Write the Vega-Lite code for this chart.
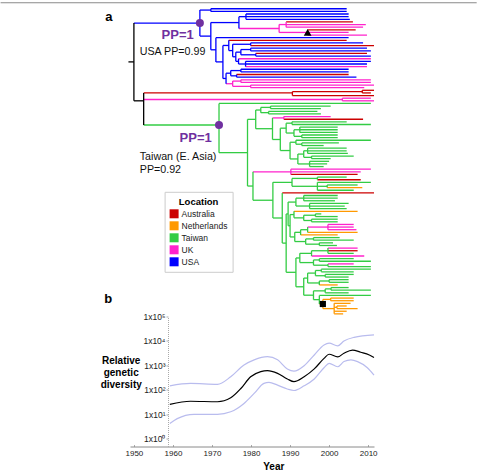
{
  "$schema": "https://vega.github.io/schema/vega-lite/v6.json",
  "padding": {"left": 0, "top": 1.5, "right": 0, "bottom": 0},
  "bounds": "flush",
  "spacing": 0,
  "config": {
    "font": "Liberation Sans",
    "view": {"stroke": null},
    "axis": {"grid": false}
  },
  "resolve": {"scale": {"color": "independent"}},
  "datasets": {
    "tree": [
      {"t0":1948.6,"t1":1950.0,"r":20.2,"v0":5.45,"v1":35,"loc":"root"},
      {"t0":1950.0,"t1":1966.9,"r":5.45,"v0":0.5,"v1":10.4,"loc":"USA"},
      {"t0":1966.9,"t1":1969.7,"r":0.5,"v0":0,"v1":1,"loc":"USA"},
      {"t0":1969.7,"t1":2004.5,"r":0,"loc":"USA"},
      {"t0":1969.7,"t1":2004.5,"r":1,"loc":"USA"},
      {"t0":1966.9,"t1":1969.7,"r":10.4,"v0":5.25,"v1":15.6,"loc":"USA"},
      {"t0":1969.7,"t1":1976.9,"r":5.25,"v0":3,"v1":7.5,"loc":"USA"},
      {"t0":1976.9,"t1":1978.7,"r":3,"v0":2,"v1":4,"loc":"USA"},
      {"t0":1978.7,"t1":2005.0,"r":2,"loc":"USA"},
      {"t0":1978.7,"t1":2005.0,"r":3,"loc":"USA"},
      {"t0":1978.7,"t1":2005.3,"r":4,"loc":"USA"},
      {"t0":1976.9,"t1":1987.2,"r":7.5,"v0":6,"v1":9,"loc":"UK"},
      {"t0":1987.2,"t1":1989.0,"r":6,"v0":5,"v1":7,"loc":"UK"},
      {"t0":1989.0,"t1":2006.1,"r":5,"loc":"Australia"},
      {"t0":1989.0,"t1":2009.4,"r":6,"loc":"UK"},
      {"t0":1989.0,"t1":2008.7,"r":7,"loc":"UK"},
      {"t0":1987.2,"t1":1994.5,"r":9,"v0":8,"v1":10,"loc":"UK"},
      {"t0":1994.5,"t1":2006.8,"r":8,"loc":"Australia"},
      {"t0":1994.5,"t1":2005.0,"r":9,"loc":"UK"},
      {"t0":1994.5,"t1":2009.7,"r":10,"loc":"UK"},
      {"t0":1969.7,"t1":1971.0,"r":15.6,"v0":11,"v1":20.2,"loc":"USA"},
      {"t0":1971.0,"t1":2005.0,"r":11,"loc":"USA"},
      {"t0":1971.0,"t1":1972.8,"r":20.2,"v0":13.95,"v1":26.5,"loc":"USA"},
      {"t0":1972.8,"t1":1974.3,"r":13.95,"v0":12,"v1":15.9,"loc":"USA"},
      {"t0":1974.3,"t1":2004.5,"r":12,"loc":"Australia"},
      {"t0":1974.3,"t1":1975.3,"r":15.9,"v0":13.5,"v1":18.25,"loc":"USA"},
      {"t0":1975.3,"t1":1979.9,"r":13.5,"v0":13,"v1":14,"loc":"USA"},
      {"t0":1979.9,"t1":2008.7,"r":13,"loc":"USA"},
      {"t0":1979.9,"t1":2011.5,"r":14,"loc":"Australia"},
      {"t0":1975.3,"t1":1976.1,"r":18.25,"v0":16.5,"v1":20,"loc":"USA"},
      {"t0":1976.1,"t1":1977.4,"r":16.5,"v0":15.5,"v1":17.5,"loc":"USA"},
      {"t0":1977.4,"t1":1979.9,"r":15.5,"v0":15,"v1":16,"loc":"USA"},
      {"t0":1979.9,"t1":2009.7,"r":15,"loc":"USA"},
      {"t0":1979.9,"t1":2010.7,"r":16,"loc":"USA"},
      {"t0":1977.4,"t1":1981.2,"r":17.5,"v0":17,"v1":18,"loc":"USA"},
      {"t0":1981.2,"t1":2009.7,"r":17,"loc":"Australia"},
      {"t0":1981.2,"t1":2010.7,"r":18,"loc":"USA"},
      {"t0":1976.1,"t1":1976.8,"r":20,"v0":19,"v1":21,"loc":"USA"},
      {"t0":1976.8,"t1":2010.7,"r":19,"loc":"UK"},
      {"t0":1976.8,"t1":1978.6,"r":21,"v0":20,"v1":22,"loc":"USA"},
      {"t0":1978.6,"t1":2010.7,"r":20,"loc":"USA"},
      {"t0":1978.6,"t1":2009.7,"r":21,"loc":"USA"},
      {"t0":1978.6,"t1":2009.7,"r":22,"loc":"UK"},
      {"t0":1972.8,"t1":1973.6,"r":26.5,"v0":24.5,"v1":28.5,"loc":"USA"},
      {"t0":1973.6,"t1":1974.8,"r":24.5,"v0":23.5,"v1":25.5,"loc":"USA"},
      {"t0":1974.8,"t1":1977.4,"r":23.5,"v0":23,"v1":24,"loc":"USA"},
      {"t0":1977.4,"t1":2005.0,"r":23,"loc":"USA"},
      {"t0":1977.4,"t1":2005.0,"r":24,"loc":"USA"},
      {"t0":1974.8,"t1":1976.3,"r":25.5,"v0":25,"v1":26,"loc":"USA"},
      {"t0":1976.3,"t1":2005.0,"r":25,"loc":"Australia"},
      {"t0":1976.3,"t1":2007.0,"r":26,"loc":"USA"},
      {"t0":1973.6,"t1":1975.3,"r":28.5,"v0":27.5,"v1":29.5,"loc":"UK"},
      {"t0":1975.3,"t1":1977.4,"r":27.5,"v0":27,"v1":28,"loc":"UK"},
      {"t0":1977.4,"t1":2010.7,"r":27,"loc":"UK"},
      {"t0":1977.4,"t1":2010.7,"r":28,"loc":"UK"},
      {"t0":1975.3,"t1":1979.9,"r":29.5,"v0":29,"v1":30,"loc":"UK"},
      {"t0":1979.9,"t1":2011.5,"r":29,"loc":"UK"},
      {"t0":1979.9,"t1":2009.0,"r":30,"loc":"UK"},
      {"t0":1950.0,"t1":1952.5,"r":35,"v0":32,"v1":44.2,"loc":"root"},
      {"t0":1952.5,"t1":1990.6,"r":32,"v0":31.5,"v1":33,"loc":"Australia"},
      {"t0":1990.6,"t1":2008.5,"r":31.5,"v0":31,"v1":32,"loc":"Australia"},
      {"t0":2008.5,"t1":2011.5,"r":31,"loc":"Australia"},
      {"t0":2008.5,"t1":2010.7,"r":32,"loc":"Australia"},
      {"t0":1990.6,"t1":2011.5,"r":33,"loc":"Australia"},
      {"t0":1952.5,"t1":2003.4,"r":34.5,"v0":34,"v1":35,"loc":"UK"},
      {"t0":2003.4,"t1":2010.7,"r":34,"loc":"UK"},
      {"t0":2003.4,"t1":2011.5,"r":35,"loc":"UK"},
      {"t0":1952.5,"t1":1971.8,"r":44.2,"v0":36,"v1":54.7,"loc":"Taiwan"},
      {"t0":1971.8,"t1":2010.7,"r":36,"loc":"Taiwan"},
      {"t0":1971.8,"t1":1979.1,"r":54.7,"v0":42.05,"v1":67.4,"loc":"Taiwan"},
      {"t0":1979.1,"t1":1981.2,"r":42.05,"v0":38.5,"v1":45.6,"loc":"Taiwan"},
      {"t0":1981.2,"t1":1982.5,"r":38.5,"v0":37.5,"v1":39.5,"loc":"Taiwan"},
      {"t0":1982.5,"t1":1985.0,"r":37.5,"v0":37,"v1":38,"loc":"Taiwan"},
      {"t0":1985.0,"t1":2000.4,"r":37,"loc":"Taiwan"},
      {"t0":1985.0,"t1":1997.9,"r":38,"loc":"Taiwan"},
      {"t0":1982.5,"t1":1984.5,"r":39.5,"v0":39,"v1":40,"loc":"Taiwan"},
      {"t0":1984.5,"t1":1997.0,"r":39,"loc":"Taiwan"},
      {"t0":1984.5,"t1":1997.9,"r":40,"loc":"Taiwan"},
      {"t0":1981.2,"t1":1985.5,"r":45.6,"v0":41.5,"v1":49.7,"loc":"Taiwan"},
      {"t0":1985.5,"t1":1988.4,"r":41.5,"v0":41,"v1":42,"loc":"UK"},
      {"t0":1988.4,"t1":2000.4,"r":41,"loc":"UK"},
      {"t0":1988.4,"t1":2008.7,"r":42,"loc":"Australia"},
      {"t0":1985.5,"t1":1987.5,"r":49.7,"v0":45.4,"v1":53.9,"loc":"Taiwan"},
      {"t0":1987.5,"t1":1989.0,"r":45.4,"v0":43.5,"v1":47.25,"loc":"Taiwan"},
      {"t0":1989.0,"t1":1990.5,"r":43.5,"v0":43,"v1":44,"loc":"Taiwan"},
      {"t0":1990.5,"t1":2004.5,"r":43,"loc":"Taiwan"},
      {"t0":1990.5,"t1":2010.7,"r":44,"loc":"Taiwan"},
      {"t0":1989.0,"t1":1991.0,"r":47.25,"v0":46,"v1":48.5,"loc":"Taiwan"},
      {"t0":1991.0,"t1":1992.5,"r":46,"v0":45,"v1":47,"loc":"Taiwan"},
      {"t0":1992.5,"t1":2002.2,"r":45,"loc":"Taiwan"},
      {"t0":1992.5,"t1":2002.2,"r":46,"loc":"Taiwan"},
      {"t0":1992.5,"t1":2002.2,"r":47,"loc":"Taiwan"},
      {"t0":1991.0,"t1":1993.0,"r":48.5,"v0":48,"v1":49,"loc":"Taiwan"},
      {"t0":1993.0,"t1":2002.2,"r":48,"loc":"Taiwan"},
      {"t0":1993.0,"t1":2002.2,"r":49,"loc":"Taiwan"},
      {"t0":1987.5,"t1":1990.0,"r":53.9,"v0":50.75,"v1":57.1,"loc":"Taiwan"},
      {"t0":1990.0,"t1":1991.5,"r":50.75,"v0":50,"v1":51.5,"loc":"Taiwan"},
      {"t0":1991.5,"t1":2010.7,"r":50,"loc":"Taiwan"},
      {"t0":1991.5,"t1":1993.0,"r":51.5,"v0":51,"v1":52,"loc":"Taiwan"},
      {"t0":1993.0,"t1":2002.5,"r":51,"loc":"Taiwan"},
      {"t0":1993.0,"t1":1998.6,"r":52,"loc":"Taiwan"},
      {"t0":1990.0,"t1":1992.0,"r":57.1,"v0":55.25,"v1":59,"loc":"Taiwan"},
      {"t0":1992.0,"t1":1993.5,"r":55.25,"v0":54,"v1":56.5,"loc":"Taiwan"},
      {"t0":1993.5,"t1":1994.5,"r":54,"v0":53,"v1":55,"loc":"Taiwan"},
      {"t0":1994.5,"t1":2004.5,"r":53,"loc":"Taiwan"},
      {"t0":1994.5,"t1":2004.5,"r":54,"loc":"Taiwan"},
      {"t0":1994.5,"t1":2004.8,"r":55,"loc":"Taiwan"},
      {"t0":1993.5,"t1":1995.5,"r":56.5,"v0":56,"v1":57,"loc":"Taiwan"},
      {"t0":1995.5,"t1":2006.3,"r":56,"loc":"Taiwan"},
      {"t0":1995.5,"t1":2000.4,"r":57,"loc":"Taiwan"},
      {"t0":1992.0,"t1":1995.0,"r":59,"v0":58,"v1":60,"loc":"Taiwan"},
      {"t0":1995.0,"t1":2000.0,"r":58,"loc":"Taiwan"},
      {"t0":1995.0,"t1":1999.5,"r":59,"loc":"Taiwan"},
      {"t0":1995.0,"t1":1998.6,"r":60,"loc":"Taiwan"},
      {"t0":1979.1,"t1":1980.5,"r":67.4,"v0":62,"v1":72.8,"loc":"Taiwan"},
      {"t0":1980.5,"t1":1990.2,"r":62,"v0":61,"v1":63,"loc":"UK"},
      {"t0":1990.2,"t1":2010.7,"r":61,"loc":"UK"},
      {"t0":1990.2,"t1":2008.1,"r":62,"loc":"UK"},
      {"t0":1990.2,"t1":2007.3,"r":63,"loc":"Australia"},
      {"t0":1980.5,"t1":1985.6,"r":72.8,"v0":66,"v1":79.55,"loc":"Taiwan"},
      {"t0":1985.6,"t1":1990.5,"r":66,"v0":64.5,"v1":67.5,"loc":"Taiwan"},
      {"t0":1990.5,"t1":1997.0,"r":64.5,"v0":64,"v1":65,"loc":"Taiwan"},
      {"t0":1997.0,"t1":2004.5,"r":64,"loc":"Taiwan"},
      {"t0":1997.0,"t1":2008.1,"r":65,"loc":"Australia"},
      {"t0":1990.5,"t1":1997.0,"r":67.5,"v0":66,"v1":69,"loc":"Taiwan"},
      {"t0":1997.0,"t1":2010.7,"r":66,"loc":"Taiwan"},
      {"t0":1997.0,"t1":1999.5,"r":67.5,"v0":67,"v1":68,"loc":"Taiwan"},
      {"t0":1999.5,"t1":2007.3,"r":67,"loc":"Taiwan"},
      {"t0":1999.5,"t1":2008.5,"r":68,"loc":"Netherlands"},
      {"t0":1997.0,"t1":2006.3,"r":69,"loc":"Taiwan"},
      {"t0":1985.6,"t1":1988.0,"r":79.55,"v0":70,"v1":89.1,"loc":"Taiwan"},
      {"t0":1988.0,"t1":2011.5,"r":70,"loc":"Australia"},
      {"t0":1988.0,"t1":1989.0,"r":89.1,"v0":78,"v1":100.2,"loc":"Taiwan"},
      {"t0":1989.0,"t1":1989.5,"r":78,"v0":73.5,"v1":82.5,"loc":"Taiwan"},
      {"t0":1989.5,"t1":1991.5,"r":73.5,"v0":72,"v1":75,"loc":"Taiwan"},
      {"t0":1991.5,"t1":1993.5,"r":72,"v0":71,"v1":73,"loc":"Taiwan"},
      {"t0":1993.5,"t1":2002.2,"r":71,"loc":"Taiwan"},
      {"t0":1993.5,"t1":2002.2,"r":72,"loc":"Taiwan"},
      {"t0":1993.5,"t1":2001.5,"r":73,"loc":"Taiwan"},
      {"t0":1991.5,"t1":1995.0,"r":75,"v0":74,"v1":76,"loc":"Taiwan"},
      {"t0":1995.0,"t1":2005.0,"r":74,"loc":"Taiwan"},
      {"t0":1995.0,"t1":2004.0,"r":75,"loc":"Taiwan"},
      {"t0":1995.0,"t1":2004.5,"r":76,"loc":"Taiwan"},
      {"t0":1989.5,"t1":1990.0,"r":82.5,"v0":78.25,"v1":86.75,"loc":"Taiwan"},
      {"t0":1990.0,"t1":1991.0,"r":78.25,"v0":77,"v1":79.5,"loc":"Taiwan"},
      {"t0":1991.0,"t1":2007.3,"r":77,"loc":"Netherlands"},
      {"t0":1991.0,"t1":1993.5,"r":79.5,"v0":78.5,"v1":80.5,"loc":"Taiwan"},
      {"t0":1993.5,"t1":1996.5,"r":78.5,"v0":78,"v1":79,"loc":"Taiwan"},
      {"t0":1996.5,"t1":1998.0,"r":78,"loc":"Taiwan"},
      {"t0":1996.5,"t1":2002.2,"r":79,"loc":"Taiwan"},
      {"t0":1993.5,"t1":1995.5,"r":80.5,"v0":80,"v1":81,"loc":"Taiwan"},
      {"t0":1995.5,"t1":2002.2,"r":80,"loc":"Taiwan"},
      {"t0":1995.5,"t1":2002.2,"r":81,"loc":"Taiwan"},
      {"t0":1990.0,"t1":1991.2,"r":86.75,"v0":85,"v1":88.5,"loc":"Taiwan"},
      {"t0":1991.2,"t1":1992.7,"r":85,"v0":84,"v1":86,"loc":"Taiwan"},
      {"t0":1992.7,"t1":2002.2,"r":86,"loc":"Netherlands"},
      {"t0":1992.7,"t1":1994.5,"r":84,"v0":83,"v1":85,"loc":"Taiwan"},
      {"t0":1994.5,"t1":2007.3,"r":85,"loc":"Netherlands"},
      {"t0":1994.5,"t1":1999.7,"r":83,"v0":82,"v1":84,"loc":"UK"},
      {"t0":1999.7,"t1":2006.3,"r":82,"loc":"UK"},
      {"t0":1999.7,"t1":2006.3,"r":83,"loc":"UK"},
      {"t0":1999.7,"t1":2007.0,"r":84,"loc":"UK"},
      {"t0":1991.2,"t1":1994.0,"r":88.5,"v0":87.5,"v1":89.5,"loc":"Taiwan"},
      {"t0":1994.0,"t1":1996.0,"r":87.5,"v0":87,"v1":88,"loc":"Taiwan"},
      {"t0":1996.0,"t1":2002.7,"r":87,"loc":"Taiwan"},
      {"t0":1996.0,"t1":2006.3,"r":88,"loc":"Taiwan"},
      {"t0":1994.0,"t1":1997.5,"r":89.5,"v0":89,"v1":90,"loc":"Taiwan"},
      {"t0":1997.5,"t1":2001.0,"r":89,"loc":"Taiwan"},
      {"t0":1997.5,"t1":2002.0,"r":90,"loc":"Taiwan"},
      {"t0":1989.0,"t1":1991.5,"r":100.2,"v0":94.75,"v1":105.7,"loc":"Taiwan"},
      {"t0":1991.5,"t1":1992.5,"r":94.75,"v0":93,"v1":96.5,"loc":"Taiwan"},
      {"t0":1992.5,"t1":1995.5,"r":93,"v0":92,"v1":94,"loc":"Taiwan"},
      {"t0":1995.5,"t1":1999.7,"r":92,"v0":91,"v1":93,"loc":"Taiwan"},
      {"t0":1999.7,"t1":2007.3,"r":91,"loc":"UK"},
      {"t0":1999.7,"t1":2007.3,"r":92,"loc":"Australia"},
      {"t0":1999.7,"t1":2006.3,"r":93,"loc":"Taiwan"},
      {"t0":1995.5,"t1":2009.0,"r":94,"loc":"UK"},
      {"t0":1992.5,"t1":1996.0,"r":96.5,"v0":95.5,"v1":97.5,"loc":"Taiwan"},
      {"t0":1996.0,"t1":1997.5,"r":95.5,"v0":95,"v1":96,"loc":"Taiwan"},
      {"t0":1997.5,"t1":2006.3,"r":95,"loc":"Taiwan"},
      {"t0":1997.5,"t1":2010.7,"r":96,"loc":"Taiwan"},
      {"t0":1996.0,"t1":1999.7,"r":97.5,"v0":97,"v1":98,"loc":"Taiwan"},
      {"t0":1999.7,"t1":2006.3,"r":97,"loc":"UK"},
      {"t0":1999.7,"t1":2010.7,"r":98,"loc":"Taiwan"},
      {"t0":1991.5,"t1":1993.5,"r":105.7,"v0":102.4,"v1":108.9,"loc":"Taiwan"},
      {"t0":1993.5,"t1":1994.5,"r":102.4,"v0":100.5,"v1":104.25,"loc":"Taiwan"},
      {"t0":1994.5,"t1":1996.5,"r":100.5,"v0":99.5,"v1":101.5,"loc":"Taiwan"},
      {"t0":1996.5,"t1":1998.0,"r":99.5,"v0":99,"v1":100,"loc":"Taiwan"},
      {"t0":1998.0,"t1":2010.7,"r":99,"loc":"Taiwan"},
      {"t0":1998.0,"t1":2006.3,"r":100,"loc":"Taiwan"},
      {"t0":1996.5,"t1":1999.0,"r":101.5,"v0":101,"v1":102,"loc":"Taiwan"},
      {"t0":1999.0,"t1":2006.3,"r":101,"loc":"Taiwan"},
      {"t0":1999.0,"t1":2005.0,"r":102,"loc":"Taiwan"},
      {"t0":1994.5,"t1":1997.5,"r":104.25,"v0":103.5,"v1":105,"loc":"Taiwan"},
      {"t0":1997.5,"t1":2000.0,"r":103.5,"v0":103,"v1":104,"loc":"Taiwan"},
      {"t0":2000.0,"t1":2005.0,"r":103,"loc":"Taiwan"},
      {"t0":2000.0,"t1":2005.0,"r":104,"loc":"Taiwan"},
      {"t0":1997.5,"t1":2002.2,"r":105,"loc":"Netherlands"},
      {"t0":1993.5,"t1":1996.0,"r":108.9,"v0":107.25,"v1":110.6,"loc":"Taiwan"},
      {"t0":1996.0,"t1":1999.0,"r":107.25,"v0":106.5,"v1":108,"loc":"Taiwan"},
      {"t0":1999.0,"t1":2000.5,"r":106.5,"v0":106,"v1":107,"loc":"Taiwan"},
      {"t0":2000.5,"t1":2005.0,"r":106,"loc":"Taiwan"},
      {"t0":2000.5,"t1":2010.7,"r":107,"loc":"Taiwan"},
      {"t0":1999.0,"t1":2005.0,"r":108,"loc":"Taiwan"},
      {"t0":1996.0,"t1":1997.5,"r":110.6,"v0":109,"v1":112.25,"loc":"Taiwan"},
      {"t0":1997.5,"t1":2010.7,"r":109,"loc":"Taiwan"},
      {"t0":1997.5,"t1":1998.4,"r":112.25,"v0":110.5,"v1":114,"loc":"Netherlands"},
      {"t0":1998.4,"t1":2000.4,"r":110.5,"v0":110,"v1":111,"loc":"Netherlands"},
      {"t0":2000.4,"t1":2006.3,"r":110,"loc":"Netherlands"},
      {"t0":2000.4,"t1":2006.3,"r":111,"loc":"Netherlands"},
      {"t0":1998.4,"t1":2001.3,"r":114,"v0":112,"v1":116,"loc":"Netherlands"},
      {"t0":2001.3,"t1":2005.5,"r":112,"loc":"Netherlands"},
      {"t0":2001.3,"t1":2002.0,"r":113.5,"v0":113,"v1":114,"loc":"Netherlands"},
      {"t0":2002.0,"t1":2004.5,"r":113,"loc":"Netherlands"},
      {"t0":2002.0,"t1":2007.3,"r":114,"loc":"Netherlands"},
      {"t0":2001.3,"t1":2004.5,"r":115,"loc":"Netherlands"},
      {"t0":2001.3,"t1":2003.6,"r":116,"loc":"Netherlands"}
    ],
    "nodes": [
      {"t":1966.9,"r":5.45,"node":"USA clade"},
      {"t":1971.8,"r":44.2,"node":"Taiwan clade"},
      {"t":1994.5,"r":9,"node":"triangle"},
      {"t":1998.4,"r":112.25,"node":"square"}
    ],
    "notes": [
      {"t":1943.6,"r":3.0,"kind":"panel","text":"a"},
      {"t":1943.4,"r":110.5,"kind":"panel","text":"b"},
      {"t":1957.1,"r":10.0,"kind":"pp","text":"PP=1"},
      {"t":1951.5,"r":16.4,"kind":"note","text":"USA PP=0.99"},
      {"t":1961.7,"r":49.1,"kind":"pp","text":"PP=1"},
      {"t":1951.5,"r":56.3,"kind":"note","text":"Taiwan (E. Asia)"},
      {"t":1951.5,"r":61.4,"kind":"note","text":"PP=0.92"}
    ],
    "diversity": [
      {"year":1959.2,"value":25.7,"series":"median"},
      {"year":1964.5,"value":34.7,"series":"median"},
      {"year":1971.4,"value":33.1,"series":"median"},
      {"year":1974.8,"value":47.9,"series":"median"},
      {"year":1977.4,"value":115,"series":"median"},
      {"year":1979.9,"value":347,"series":"median"},
      {"year":1982.5,"value":562,"series":"median"},
      {"year":1984.2,"value":617,"series":"median"},
      {"year":1986.8,"value":479,"series":"median"},
      {"year":1989.3,"value":282,"series":"median"},
      {"year":1991.0,"value":219,"series":"median"},
      {"year":1993.6,"value":347,"series":"median"},
      {"year":1996.2,"value":724,"series":"median"},
      {"year":1998.7,"value":1950,"series":"median"},
      {"year":2000.0,"value":2884,"series":"median"},
      {"year":2002.2,"value":2239,"series":"median"},
      {"year":2003.8,"value":3162,"series":"median"},
      {"year":2006.0,"value":4266,"series":"median"},
      {"year":2008.1,"value":3467,"series":"median"},
      {"year":2010.3,"value":2692,"series":"median"},
      {"year":2011.5,"value":2138,"series":"median"},
      {"year":1959.2,"value":148,"series":"upper"},
      {"year":1964.5,"value":186,"series":"upper"},
      {"year":1971.4,"value":170,"series":"upper"},
      {"year":1974.8,"value":347,"series":"upper"},
      {"year":1978.2,"value":1047,"series":"upper"},
      {"year":1980.8,"value":1698,"series":"upper"},
      {"year":1984.2,"value":2291,"series":"upper"},
      {"year":1986.8,"value":1698,"series":"upper"},
      {"year":1989.3,"value":724,"series":"upper"},
      {"year":1991.0,"value":589,"series":"upper"},
      {"year":1993.6,"value":977,"series":"upper"},
      {"year":1996.2,"value":2692,"series":"upper"},
      {"year":1998.7,"value":6918,"series":"upper"},
      {"year":2000.0,"value":8128,"series":"upper"},
      {"year":2002.2,"value":6310,"series":"upper"},
      {"year":2003.8,"value":10000,"series":"upper"},
      {"year":2006.4,"value":14125,"series":"upper"},
      {"year":2011.5,"value":17783,"series":"upper"},
      {"year":1959.2,"value":4.3,"series":"lower"},
      {"year":1961.1,"value":6.8,"series":"lower"},
      {"year":1965.4,"value":10.2,"series":"lower"},
      {"year":1971.4,"value":10.2,"series":"lower"},
      {"year":1974.8,"value":12.9,"series":"lower"},
      {"year":1978.2,"value":28.2,"series":"lower"},
      {"year":1980.8,"value":72.4,"series":"lower"},
      {"year":1983.3,"value":186,"series":"lower"},
      {"year":1984.6,"value":204,"series":"lower"},
      {"year":1986.8,"value":158,"series":"lower"},
      {"year":1989.3,"value":110,"series":"lower"},
      {"year":1991.0,"value":95.5,"series":"lower"},
      {"year":1993.6,"value":148,"series":"lower"},
      {"year":1996.2,"value":282,"series":"lower"},
      {"year":1998.7,"value":813,"series":"lower"},
      {"year":2000.0,"value":1230,"series":"lower"},
      {"year":2002.2,"value":891,"series":"lower"},
      {"year":2003.8,"value":1445,"series":"lower"},
      {"year":2005.6,"value":1698,"series":"lower"},
      {"year":2007.3,"value":1445,"series":"lower"},
      {"year":2009.8,"value":813,"series":"lower"},
      {"year":2011.5,"value":407,"series":"lower"}
    ]
  },
  "vconcat": [
    {
      "width": 244,
      "height": 313,
      "layer": [
        {
          "data": {"values": [{}]},
          "mark": {"type": "rule", "color": "#8a8a8a", "strokeWidth": 1},
          "encoding": {
            "x": {"datum": 1915.85, "type": "quantitative", "scale": {"domain": [1949, 2011.5], "nice": false, "zero": false, "padding": 0}, "axis": null},
            "x2": {"datum": 2037.8},
            "y": {"datum": -2.28, "type": "quantitative", "scale": {"domain": [-2, 117], "reverse": true, "nice": false, "zero": false, "padding": 0}, "axis": null}
          }
        },
        {
          "data": {"name": "tree"},
          "mark": {"type": "bar", "orient": "horizontal", "size": 1.3},
          "encoding": {
            "x": {"field": "t0", "type": "quantitative", "scale": {"domain": [1949, 2011.5], "nice": false, "zero": false, "padding": 0}, "axis": null},
            "x2": {"field": "t1"},
            "y": {"field": "r", "type": "quantitative", "scale": {"domain": [-2, 117], "reverse": true, "nice": false, "zero": false, "padding": 0}, "axis": null},
            "color": {
              "field": "loc", "type": "nominal",
              "scale": {"domain": ["Australia", "Netherlands", "Taiwan", "UK", "USA", "root"], "range": ["#cc0000", "#ff9900", "#33cc44", "#ff22cc", "#0000ff", "#000000"]},
              "legend": {
                "title": "Location",
                "values": ["Australia", "Netherlands", "Taiwan", "UK", "USA"],
                "orient": "none", "legendX": 34.6, "legendY": 188.3,
                "fillColor": "#ffffff", "strokeColor": "#cccccc", "padding": 5,
                "titleFontSize": 9.5, "titleFontWeight": "bold", "titleColor": "#000000", "titleAnchor": "middle", "titlePadding": 3,
                "labelFontSize": 8.5, "labelColor": "#222222", "labelOffset": 3,
                "symbolType": "square", "symbolSize": 81, "symbolStrokeWidth": 0, "symbolOpacity": 1,
                "rowPadding": 3
              }
            }
          }
        },
        {
          "data": {"name": "tree"},
          "transform": [{"filter": "isValid(datum.v0)"}],
          "mark": {"type": "bar", "orient": "vertical", "size": 1.3},
          "encoding": {
            "x": {"field": "t1", "type": "quantitative", "scale": {"domain": [1949, 2011.5], "nice": false, "zero": false, "padding": 0}, "axis": null},
            "y": {"field": "v0", "type": "quantitative", "scale": {"domain": [-2, 117], "reverse": true, "nice": false, "zero": false, "padding": 0}, "axis": null},
            "y2": {"field": "v1"},
            "color": {"field": "loc", "type": "nominal"}
          }
        },
        {
          "data": {"name": "nodes"},
          "transform": [{"filter": "datum.node == 'USA clade' || datum.node == 'Taiwan clade'"}],
          "mark": {"type": "point", "shape": "circle", "filled": true, "color": "#7030a0", "size": 64, "opacity": 1},
          "encoding": {
            "x": {"field": "t", "type": "quantitative"},
            "y": {"field": "r", "type": "quantitative"}
          }
        },
        {
          "data": {"name": "nodes"},
          "transform": [{"filter": "datum.node == 'triangle'"}],
          "mark": {"type": "point", "shape": "triangle-up", "filled": true, "color": "#000000", "size": 60, "opacity": 1},
          "encoding": {
            "x": {"field": "t", "type": "quantitative"},
            "y": {"field": "r", "type": "quantitative"}
          }
        },
        {
          "data": {"name": "nodes"},
          "transform": [{"filter": "datum.node == 'square'"}],
          "mark": {"type": "point", "shape": "square", "filled": true, "color": "#000000", "size": 38, "opacity": 1},
          "encoding": {
            "x": {"field": "t", "type": "quantitative"},
            "y": {"field": "r", "type": "quantitative"}
          }
        },
        {
          "data": {"name": "notes"},
          "transform": [{"filter": "datum.kind == 'panel'"}],
          "mark": {"type": "text", "fontSize": 13, "fontWeight": "bold", "align": "center", "baseline": "middle", "color": "#000000"},
          "encoding": {
            "x": {"field": "t", "type": "quantitative"},
            "y": {"field": "r", "type": "quantitative"},
            "text": {"field": "text"}
          }
        },
        {
          "data": {"name": "notes"},
          "transform": [{"filter": "datum.kind == 'pp'"}],
          "mark": {"type": "text", "fontSize": 13, "fontWeight": "bold", "align": "left", "baseline": "middle", "color": "#7030a0"},
          "encoding": {
            "x": {"field": "t", "type": "quantitative"},
            "y": {"field": "r", "type": "quantitative"},
            "text": {"field": "text"}
          }
        },
        {
          "data": {"name": "notes"},
          "transform": [{"filter": "datum.kind == 'note'"}],
          "mark": {"type": "text", "fontSize": 10.7, "align": "left", "baseline": "middle", "color": "#111111"},
          "encoding": {
            "x": {"field": "t", "type": "quantitative"},
            "y": {"field": "r", "type": "quantitative"},
            "text": {"field": "text"}
          }
        }
      ]
    },
    {
      "width": 244,
      "height": 130,
      "data": {"name": "diversity"},
      "mark": {"type": "line", "interpolate": "monotone", "strokeWidth": 1.2},
      "encoding": {
        "x": {
          "field": "year", "type": "quantitative",
          "scale": {"domain": [1949, 2011.5], "nice": false, "zero": false},
          "axis": {
            "values": [1950, 1960, 1970, 1980, 1990, 2000, 2010], "format": "d",
            "labelFontSize": 8, "labelColor": "#222222", "labelPadding": 5,
            "domainColor": "#8a8a8a", "ticks": true, "tickSize": -2, "tickColor": "#aaaaaa",
            "title": "Year", "titleFontSize": 10, "titleFontWeight": "bold", "titleColor": "#000000",
            "titleX": 143.3, "titleY": 20.3, "titleBaseline": "middle", "titleAlign": "center"
          }
        },
        "y": {
          "field": "value", "type": "quantitative",
          "scale": {"type": "log", "domain": [0.494, 100000], "nice": false},
          "axis": {
            "offset": -38,
            "values": [1, 10, 100, 1000, 10000, 100000],
            "labelExpr": "'1x10' + ['⁰','¹','²','³','⁴','⁵'][round(log(datum.value) / LN10)]",
            "labelFontSize": 8.5, "labelColor": "#222222", "labelPadding": 1,
            "domainColor": "#aaaaaa", "domainDash": [1, 1], "tickSize": 2, "tickColor": "#aaaaaa",
            "title": ["Relative", "genetic", "diversity"],
            "titleAngle": 0, "titleFontSize": 10, "titleFontWeight": "bold", "titleColor": "#000000",
            "titleAlign": "center", "titleBaseline": "top", "titleLineHeight": 11.7,
            "titleX": -47.3, "titleY": 39.3
          }
        },
        "color": {
          "field": "series", "type": "nominal",
          "scale": {"domain": ["upper", "lower", "median"], "range": ["#b9bcee", "#b9bcee", "#000000"]},
          "legend": null
        },
        "strokeWidth": {
          "field": "series", "type": "nominal",
          "scale": {"domain": ["upper", "lower", "median"], "range": [1, 1, 1.3]},
          "legend": null
        }
      }
    }
  ]
}
